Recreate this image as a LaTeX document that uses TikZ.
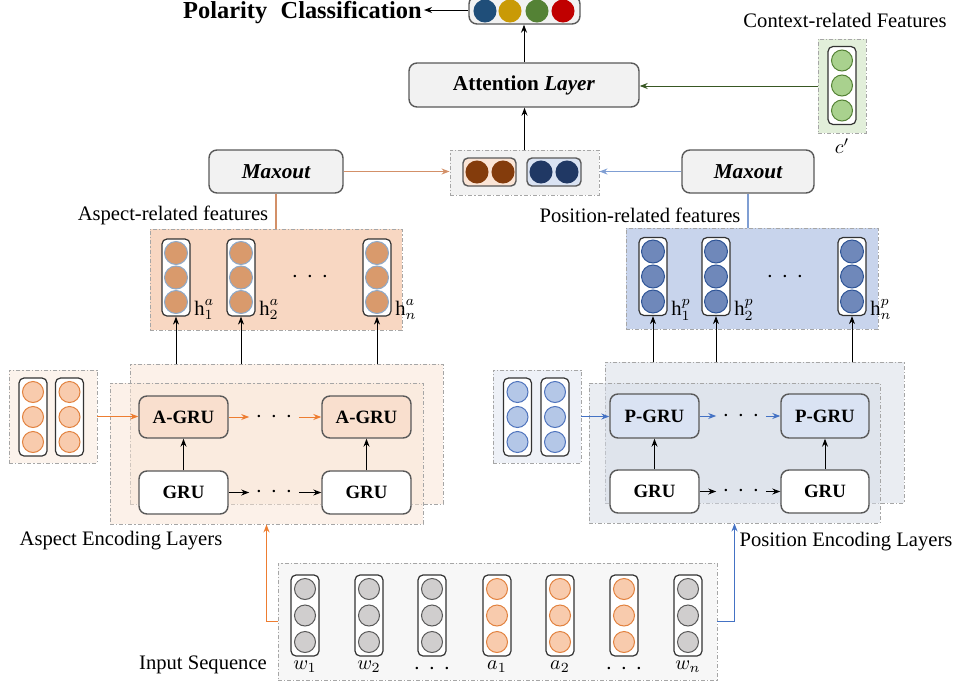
\documentclass[tikz,border=0pt]{standalone}
\usepackage{fontspec}
\setmainfont{Liberation Serif}
\usetikzlibrary{arrows.meta,fit,calc}

\definecolor{boxfill}{HTML}{F2F2F2}
\definecolor{boxdraw}{HTML}{595959}
\definecolor{dashgray}{HTML}{A6A6A6}
\definecolor{pBlue}{HTML}{1F4E79}
\definecolor{pGold}{HTML}{C99A06}
\definecolor{pGreen}{HTML}{548235}
\definecolor{pRed}{HTML}{C00000}
\definecolor{brownC}{HTML}{843C0C}
\definecolor{navyC}{HTML}{203864}
\definecolor{catOr}{HTML}{FBE5D6}
\definecolor{catBl}{HTML}{DAE3F3}
\definecolor{ctxFill}{HTML}{E2EFDA}
\definecolor{ctxC}{HTML}{A9D18E}
\definecolor{ctxLine}{HTML}{385723}
\definecolor{featAfill}{HTML}{F8D7C2}
\definecolor{featPfill}{HTML}{C8D4EC}
\definecolor{featAc}{HTML}{D99A6C}
\definecolor{featAcb}{HTML}{8EA9C8}
\definecolor{featPc}{HTML}{6F88BA}
\definecolor{featPcb}{HTML}{2F5597}
\definecolor{lineOr}{HTML}{D39068}
\definecolor{lineBl}{HTML}{7F9ED3}
\definecolor{encOr}{HTML}{ED7D31}
\definecolor{encBl}{HTML}{4472C4}
\definecolor{layA}{HTML}{F9E4D4}
\definecolor{layP}{HTML}{D5DBE6}
\definecolor{agru}{HTML}{F9DFCE}
\definecolor{pgru}{HTML}{DAE3F3}
\definecolor{inAfill}{HTML}{FCF3EC}
\definecolor{inPfill}{HTML}{EEF1F7}
\definecolor{orC}{HTML}{F8CBAD}
\definecolor{orCb}{HTML}{E2823F}
\definecolor{lbC}{HTML}{B4C7E7}
\definecolor{lbCb}{HTML}{4F74BD}
\definecolor{grC}{HTML}{D0CECE}
\definecolor{grCb}{HTML}{595959}
\definecolor{seqFill}{HTML}{F7F7F7}

\newcommand{\dotsrow}{{\fontsize{12}{12}\selectfont${\cdot}\hspace{4.2pt}{\cdot}\hspace{4.2pt}{\cdot}$}}
\newcommand{\hlab}[2]{$\mathrm{h}^{\raisebox{1.2pt}{$\scriptstyle #2$}}_{#1}$}
% column vector: name, cx, y of first circle, spacing, circle style
\newcommand{\vcol}[5]{%
  \node[colbox, minimum height={#4pt+14pt}] (#1) at (#2,{#3+#4}) {};
  \foreach \k in {0,1,2}{\node[#5] (#1-\k) at (#2,{#3+\k*#4}) {};}
}

\begin{document}
\begin{tikzpicture}[x=0.5pt,y=-0.5pt,
  font=\fontsize{10.3}{12.4}\selectfont,
  conn/.style={line width=0.5pt, -{Stealth[length=4pt,width=3pt]}},
  plainline/.style={line width=0.6pt},
  roundbox/.style={draw=boxdraw, line width=0.7pt, rounded corners=4pt, inner sep=0pt},
  dashbox/.style={draw=dashgray, line width=0.45pt, dash pattern=on 2pt off 1pt on 0.6pt off 1pt, inner sep=0pt},
  colbox/.style={draw=black!80, line width=0.6pt, fill=white, rounded corners=2.5pt, minimum width=14pt, inner sep=0pt},
  cir/.style={circle, inner sep=0pt, minimum size=10.5pt, line width=0.5pt},
  greyc/.style={cir, fill=grC, draw=grCb},
  orc/.style={cir, fill=orC, draw=orCb},
  lbc/.style={cir, fill=lbC, draw=lbCb},
  grnc/.style={cir, fill=ctxC, draw=pGreen},
  fac/.style={cir, minimum size=11.5pt, fill=featAc, draw=featAcb},
  fpc/.style={cir, minimum size=11.5pt, fill=featPc, draw=featPcb},
  grufont/.style={font=\bfseries\fontsize{9.4}{11}\selectfont},
  maxfont/.style={font=\bfseries\itshape\fontsize{10.6}{12}\selectfont},
  dotnode/.style={inner xsep=3pt, inner ysep=1pt},
  hnode/.style={anchor=base west, inner sep=0pt}
]
\useasboundingbox (0,0) rectangle (959,686);

% ---------- top: output ----------
\node[roundbox, fill=boxfill, fit={(469,-4) (580,24)}] (outbox) {};
\node[cir, minimum size=11pt, fill=pBlue, draw=pBlue] (o1) at (485,11) {};
\node[cir, minimum size=11pt, fill=pGold, draw=pGold] (o2) at (510,11) {};
\node[cir, minimum size=11pt, fill=pGreen, draw=pGreen] (o3) at (537,11) {};
\node[cir, minimum size=11pt, fill=pRed, draw=pRed] (o4) at (563,11) {};
\node[font=\bfseries\fontsize{12.2}{14}\selectfont, anchor=east, inner sep=1pt] (title) at (424,13) {Polarity\hspace{0.55em}Classification};
\draw[conn] (outbox.west) -- (outbox.west -| title.east);

% ---------- attention ----------
\node[roundbox, fill=boxfill, fit={(409,63) (639,107)},
  label={[font=\bfseries\fontsize{10.6}{12}\selectfont]center:Attention \textit{Layer}}] (att) {};
\draw[conn] (att.north) -- (att.north |- outbox.south);

% ---------- concatenation ----------
\node[dashbox, fill=boxfill, fit={(450,150) (599,195)}] (concat) {};
\node[roundbox, rounded corners=2.5pt, fill=catOr, fit={(463,158) (516,186)}] (catA) {};
\node[cir, minimum size=11pt, fill=brownC, draw=brownC] (catA1) at (477,172) {};
\node[cir, minimum size=11pt, fill=brownC, draw=brownC] (catA2) at (503,172) {};
\node[roundbox, rounded corners=2.5pt, fill=catBl, fit={(527,158) (581,186)}] (catP) {};
\node[cir, minimum size=11pt, fill=navyC, draw=navyC] (catP1) at (541,172) {};
\node[cir, minimum size=11pt, fill=navyC, draw=navyC] (catP2) at (567,172) {};
\draw[conn] (concat.north) -- (concat.north |- att.south);

% ---------- context ----------
\node (ctxlabel) at (845,20) {Context-related Features};
\node[dashbox, fill=ctxFill, fit={(818,39) (866,133)}] (ctx) {};
\vcol{cv}{842}{60.5}{25}{grnc}
\node (cprime) at (842,146) {$c'$};
\draw[conn, draw=ctxLine] (ctx.west) -- (ctx.west -| att.east);

% ---------- maxout ----------
\node[roundbox, fill=boxfill, fit={(209,150) (343,193)}, label={[maxfont]center:Maxout}] (maxA) {};
\node[roundbox, fill=boxfill, fit={(682,150) (814,193)}, label={[maxfont]center:Maxout}] (maxP) {};
\draw[conn, draw=lineOr] (maxA.east) -- (maxA.east -| concat.west);
\draw[conn, draw=lineBl] (maxP.west) -- (maxP.west -| concat.east);

% ---------- feature boxes ----------
\node (alabel) at (173,215) {Aspect-related features};
\node (plabel) at (640,215) {Position-related features};

\node[dashbox, fill=featAfill, fit={(150,229) (402,330)}] (featA) {};
\vcol{ha1}{176}{253}{24.5}{fac}
\vcol{ha2}{241}{253}{24.5}{fac}
\vcol{ha3}{377}{253}{24.5}{fac}
\node[dotnode] (fadots) at (310,277) {\dotsrow};
\node[hnode] (la1) at (194,315) {\hlab{1}{a}};
\node[hnode] (la2) at (259,315) {\hlab{2}{a}};
\node[hnode] (la3) at (395,315) {\hlab{n}{a}};

\node[dashbox, fill=featPfill, fit={(626,228) (878,329)}] (featP) {};
\vcol{hp1}{653}{251.5}{25}{fpc}
\vcol{hp2}{716}{251.5}{25}{fpc}
\vcol{hp3}{852}{251.5}{25}{fpc}
\node[dotnode] (fpdots) at (785,277) {\dotsrow};
\node[hnode] (lp1) at (671,315) {\hlab{1}{p}};
\node[hnode] (lp2) at (734,315) {\hlab{2}{p}};
\node[hnode] (lp3) at (870,315) {\hlab{n}{p}};

\draw[plainline, draw=lineOr] (maxA.south) -- (maxA.south |- featA.north);
\draw[plainline, draw=lineBl] (maxP.south) -- (maxP.south |- featP.north);

% ---------- aspect encoding ----------
\node[dashbox, fill=layA, fill opacity=0.5, fit={(130,364) (443,504)}] (backA) {};
\node[dashbox, fill=layA, fill opacity=0.5, fit={(110,383) (423,524)}] (frontA) {};
\node[roundbox, fill=agru, fit={(139,396) (228,438)}, label={[grufont]center:A-GRU}] (ag1) {};
\node[roundbox, fill=agru, fit={(322,396) (411,438)}, label={[grufont]center:A-GRU}] (ag2) {};
\node[roundbox, fill=white, fit={(139,471) (228,514)}, label={[grufont]center:GRU}] (g1) {};
\node[roundbox, fill=white, fit={(322,471) (411,514)}, label={[grufont]center:GRU}] (g2) {};
\node[dotnode] (adA) at (274,417) {\dotsrow};
\node[dotnode] (adG) at (274,492.5) {\dotsrow};
\draw[conn, draw=encOr] (ag1.east) -- (ag1.east -| adA.west);
\draw[conn, draw=encOr] (ag1.east -| adA.east) -- (ag2.west);
\draw[conn] (g1.east) -- (g1.east -| adG.west);
\draw[conn] (g1.east -| adG.east) -- (g2.west);
\draw[conn] (g1) -- (ag1);
\draw[conn] (g2) -- (ag2);

\node[dashbox, fill=inAfill, fit={(9,370) (97,463)}] (inA) {};
\vcol{ia1}{33}{392}{25}{orc}
\vcol{ia2}{69.5}{392}{25}{orc}
\draw[conn, draw=encOr] (inA.east) -- (inA.east -| ag1.west);
\node (aenc) at (121,541) {Aspect Encoding Layers};

\foreach \c in {ha1,ha2,ha3} \draw[conn] (\c.south |- backA.north) -- (\c.south);

% ---------- position encoding ----------
\node[dashbox, fill=layP, fill opacity=0.5, fit={(605,362) (904,503)}] (backP) {};
\node[dashbox, fill=layP, fill opacity=0.5, fit={(589,383) (880,523)}] (frontP) {};
\node[roundbox, fill=pgru, fit={(610,394) (699,438)}, label={[grufont]center:P-GRU}] (pg1) {};
\node[roundbox, fill=pgru, fit={(781,394) (869,438)}, label={[grufont]center:P-GRU}] (pg2) {};
\node[roundbox, fill=white, fit={(610,470) (699,513)}, label={[grufont]center:GRU}] (gp1) {};
\node[roundbox, fill=white, fit={(781,470) (869,513)}, label={[grufont]center:GRU}] (gp2) {};
\node[dotnode] (pdA) at (741,416) {\dotsrow};
\node[dotnode] (pdG) at (741,491.5) {\dotsrow};
\draw[conn, draw=encBl] (pg1.east) -- (pg1.east -| pdA.west);
\draw[conn, draw=encBl] (pg1.east -| pdA.east) -- (pg2.west);
\draw[conn] (gp1.east) -- (gp1.east -| pdG.west);
\draw[conn] (gp1.east -| pdG.east) -- (gp2.west);
\draw[conn] (gp1) -- (pg1);
\draw[conn] (gp2) -- (pg2);

\node[dashbox, fill=inPfill, fit={(493,370) (581,463)}] (inP) {};
\vcol{ip1}{517.5}{392}{25}{lbc}
\vcol{ip2}{555}{392}{25}{lbc}
\draw[conn, draw=encBl] (inP.east) -- (inP.east -| pg1.west);
\node (penc) at (846,542) {Position Encoding Layers};

\foreach \c in {hp1,hp2,hp3} \draw[conn] (\c.south |- backP.north) -- (\c.south);

% ---------- input sequence ----------
\node[dashbox, fill=seqFill, fit={(278,563) (717,680)}] (inseq) {};
\vcol{s1}{305}{589}{26.5}{greyc}
\vcol{s2}{369}{589}{26.5}{greyc}
\vcol{s3}{432}{589}{26.5}{greyc}
\vcol{s4}{497}{589}{26.5}{orc}
\vcol{s5}{560}{589}{26.5}{orc}
\vcol{s6}{624}{589}{26.5}{orc}
\vcol{s7}{688}{589}{26.5}{greyc}
\node (w1) at (305,667) {$w_1$};
\node (w2) at (369,667) {$w_2$};
\node (wd) at (432,669) {\dotsrow};
\node (a1) at (497,667) {$a_1$};
\node (a2) at (560,667) {$a_2$};
\node (ad) at (624,669) {\dotsrow};
\node (wn) at (688,667) {$w_n$};
\node (inlabel) at (203,665) {Input Sequence};

\draw[conn, draw=encOr] (inseq.west) -| (frontA.south);
\draw[conn, draw=encBl] (inseq.east) -| (frontP.south);
\end{tikzpicture}
\end{document}
